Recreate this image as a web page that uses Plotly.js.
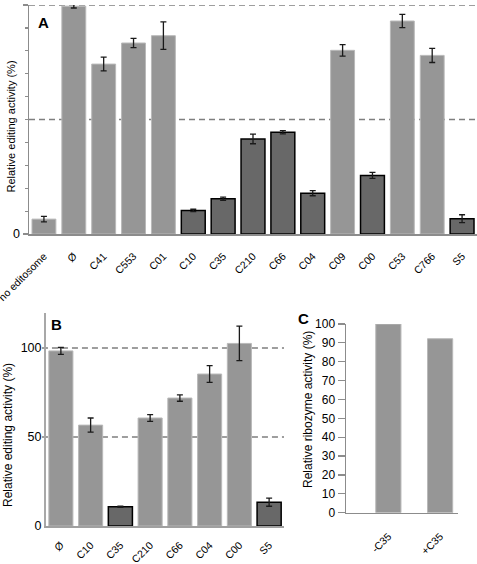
<!DOCTYPE html>
<html>
<head>
<meta charset="utf-8">
<script src="https://cdn.plot.ly/plotly-3.0.1.min.js"></script>
<style>html,body{margin:0;padding:0;background:#fff;}#chart{width:477px;height:564px;}</style>
</head>
<body>
<div id="chart"></div>
<script>
// ---------- Data ----------
const catsA = ['no editosome','Ø','C41','C553','C01','C10','C35','C210','C66','C04','C09','C00','C53','C766','S5'];
const valsA = [6.5, 99.5, 74.2, 83.4, 86.6, 10.3, 15.4, 41.5, 44.4, 17.8, 80.2, 25.6, 93.0, 78.0, 6.7];
const errA  = [1.2, 0.8, 3.0, 2.0, 6.0, 0.5, 0.7, 2.1, 0.7, 1.1, 2.5, 1.3, 2.9, 3.1, 1.7];
const darkA = ['C10','C35','C210','C66','C04','C00','S5'];

const catsB = ['Ø','C10','C35','C210','C66','C04','C00','S5'];
const valsB = [98.4, 56.7, 10.8, 60.7, 71.9, 85.4, 102.6, 13.4];
const errB  = [1.9, 4.0, 0.3, 1.9, 1.8, 4.7, 9.7, 2.3];
const darkB = ['C35','S5'];

const catsC = ['-C35','+C35'];
const valsC = [100, 92.2];

const titleAB = 'Relative editing activity (%)';
const titleC = 'Relative ribozyme activity (%)';

// ---------- Styles ----------
const LIGHT = '#969696', LIGHT_EDGE = '#b9b9b9';
const DARK = '#686868', DARK_EDGE = '#000000';
const AXIS = '#8c8c8c';
const W = 477, H = 564;
const px = v => v / W;
const py = v => 1 - v / H;

function barTrace(cats, vals, errs, dark, xa, ya, width) {
  const isDark = cats.map(c => dark.indexOf(c) >= 0);
  const t = {
    type: 'bar', x: cats, y: vals, xaxis: xa, yaxis: ya, width: width,
    marker: {
      color: isDark.map(d => d ? DARK : LIGHT),
      line: { color: isDark.map(d => d ? DARK_EDGE : LIGHT_EDGE), width: isDark.map(d => d ? 1.5 : 1) }
    },
    hoverinfo: 'x+y', cliponaxis: false
  };
  if (errs) t.error_y = { type: 'data', array: errs, visible: true, color: '#1a1a1a', thickness: 1.3, width: 3 };
  return t;
}

const data = [
  barTrace(catsA, valsA, errA, darkA, 'x', 'y', 0.8),
  barTrace(catsB, valsB, errB, darkB, 'x2', 'y2', 0.81),
  barTrace(catsC, valsC, null, [], 'x3', 'y3', 0.487)
];

const font = 'Liberation Sans, Arial, sans-serif';
function xAxis(extra) {
  return Object.assign({
    type: 'category', showline: true, linecolor: AXIS, linewidth: 2, ticks: '',
    tickangle: -45, tickfont: { size: 10.5, family: font, color: '#000' },
    showgrid: false, zeroline: false, fixedrange: true, automargin: false
  }, extra);
}
function yTitle(text, x, y, size) {
  return { text: text, xref: 'paper', yref: 'paper', x: px(x), y: py(y), xanchor: 'center', yanchor: 'middle',
           textangle: -90, showarrow: false, font: { size: size, family: font, color: '#000' } };
}
function letter(text, x, y) {
  return { text: '<b>' + text + '</b>', xref: 'paper', yref: 'paper', x: px(x), y: py(y), xanchor: 'center', yanchor: 'middle',
           showarrow: false, font: { size: 15, family: font, color: '#000' } };
}
const dashLine = (xa, ya, x0, v) => ({ type: 'line', xref: xa + ' domain', yref: ya, x0: x0, x1: 1, y0: v, y1: v,
  line: { color: '#7f7f7f', width: 1.5, dash: '6px,4px' }, layer: 'below' });

const layout = {
  width: W, height: H,
  margin: { l: 0, r: 0, t: 0, b: 0 },
  paper_bgcolor: '#fff', plot_bgcolor: 'rgba(0,0,0,0)',
  showlegend: false,
  font: { family: font, color: '#000' },
  bargap: 0.2,
  xaxis: xAxis({ domain: [px(29), 1], anchor: 'y', range: [-0.5, 14.5], ticklabelstandoff: 10 }),
  yaxis: {
    domain: [py(234), py(5)], anchor: 'x', range: [0, 100],
    tickmode: 'linear', tick0: 0, dtick: 100, ticks: 'outside', ticklen: 5, tickcolor: AXIS, tickwidth: 1.5,
    minor: { tickmode: 'linear', tick0: 0, dtick: 10, ticks: 'outside', ticklen: 3, tickcolor: AXIS, tickwidth: 1.2, showgrid: false },
    showline: true, linecolor: AXIS, linewidth: 1.5, showgrid: false, zeroline: false,
    tickfont: { size: 12.5, family: font, color: '#000' }
  },
  xaxis2: xAxis({ domain: [px(46), px(284)], anchor: 'y2', range: [-0.5, 7.5], linecolor: '#a0a0a0', ticklabelstandoff: 7 }),
  yaxis2: {
    domain: [py(526), py(313)], anchor: 'x2', range: [0, 119.7],
    tickvals: [0, 50, 100], ticks: '', showline: true, linecolor: '#a8a8a8', linewidth: 2,
    showgrid: false, zeroline: false,
    tickfont: { size: 12.5, family: font, color: '#000' }
  },
  xaxis3: xAxis({ domain: [px(346), px(458)], anchor: 'y3', range: [-0.819, 1.346], linewidth: 1.5, ticklabelstandoff: 12 }),
  yaxis3: {
    domain: [py(512.7), py(324)], anchor: 'x3', range: [0, 100],
    tickmode: 'linear', tick0: 0, dtick: 10, ticks: 'outside', ticklen: 7, tickcolor: AXIS, tickwidth: 1.2,
    showline: true, linecolor: AXIS, linewidth: 1.5, showgrid: false, zeroline: false,
    tickfont: { size: 12, family: font, color: '#000' }
  },
  shapes: [
    dashLine('x', 'y', 0, 100), dashLine('x', 'y', 0, 50),
    dashLine('x2', 'y2', -0.017, 100), dashLine('x2', 'y2', -0.017, 50)
  ],
  annotations: [
    letter('A', 43, 22), letter('B', 56, 324), letter('C', 303, 318),
    yTitle(titleAB, 10.5, 127, 11), yTitle(titleAB, 8, 435, 12), yTitle(titleC, 308, 410, 12)
  ]
};

Plotly.newPlot('chart', data, layout, { displayModeBar: false, staticPlot: true });
</script>
</body>
</html>
